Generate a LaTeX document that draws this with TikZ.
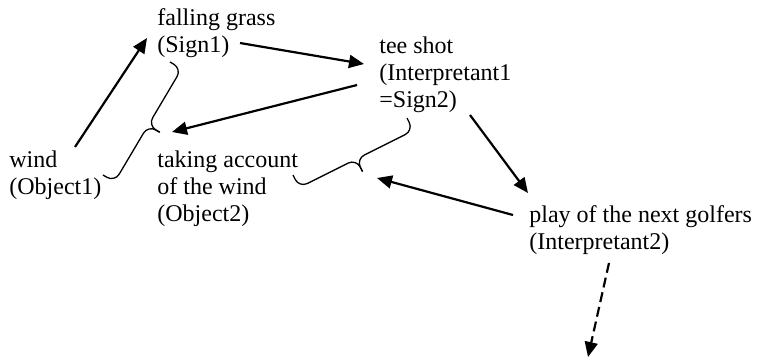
\documentclass[tikz,border=0pt]{standalone}
\usepackage{fontspec}
\setmainfont{Liberation Serif}
\usetikzlibrary{calc}
\usetikzlibrary{arrows.meta}

\begin{document}
\begin{tikzpicture}[x=0.5pt,y=-0.5pt,
		txt/.style={anchor=base west, inner sep=0pt, align=left, font=\fontsize{12}{13.5}\selectfont},
		arr/.style={line width=1.1pt, -{Triangle[length=7.5pt,width=6.5pt]}},
		curly/.style={line width=0.65pt, rounded corners=4.5pt, line join=round}]
		\newcommand{\bracepath}[4]{% ends #1 and #2, body height #3, tip height #4
			\coordinate (bm) at ($(#1)!0.5!(#2)$);
			\draw[curly] (#1) -- ($(#1)!#3!90:(#2)$) -- ($(bm)!#3!90:(#2)$) -- ($(bm)!#4!90:(#2)$);
			\draw[curly] (#2) -- ($(#2)!#3!-90:(#1)$) -- ($(bm)!#3!90:(#2)$) -- ($(bm)!#4!90:(#2)$);
		}
		\useasboundingbox (0,0) rectangle (760,359);	% page size
		
		% texts (base = baseline of the last line)
		\node[txt] (sign1) at (157,52) {falling grass\\(Sign1)};
		\node[txt] (interp1) at (379,107) {tee shot\\(Interpretant1\\=Sign2)};
		\node[txt] (object1) at (9,194) {wind\\(Object1)};
		\node[txt] (object2) at (157,221) {taking account\\of the wind\\(Object2)};
		\node[txt] (interp2) at (529,249) {play of the next golfers\\(Interpretant2)};
		\coordinate (next) at (588,357);	% open end below
		
		% braces
		\coordinate (b1top) at ($(sign1.base west)+(13,10)$);
		\coordinate (b1bot) at ($(object1.base west)+(94,-19)$);
		\coordinate (b2top) at ($(interp1.base west)+(28,11)$);
		\coordinate (b2bot) at ($(object2.base west)+(136,-46)$);
		\bracepath{b1top}{b1bot}{6.75pt}{13.5pt}
		\bracepath{b2top}{b2bot}{7pt}{14pt}
		
		% arrows
		\draw[arr] ($(object1.base west)+(66,-47)$) -- ($(sign1.base west)+(-10,-14)$);
		\draw[arr] ($(sign1.base west)+(83,-9)$) -- ($(interp1.base west)+(-15,-43)$);
		\draw[arr] ($(interp1.base west)+(-22,-22)$) -- ($(object2.base west)+(15,-89)$);
		\draw[arr] ($(interp1.base west)+(91,8)$) -- ($(interp2.base west)+(-1,-56)$);
		\draw[arr] ($(interp2.base west)+(-16,-34)$) -- ($(object2.base west)+(220,-43)$);
		\draw[arr, dash pattern=on 5pt off 2.5pt] ($(interp2.base west)+(80,14)$) -- (next);
\end{tikzpicture}
\end{document}
